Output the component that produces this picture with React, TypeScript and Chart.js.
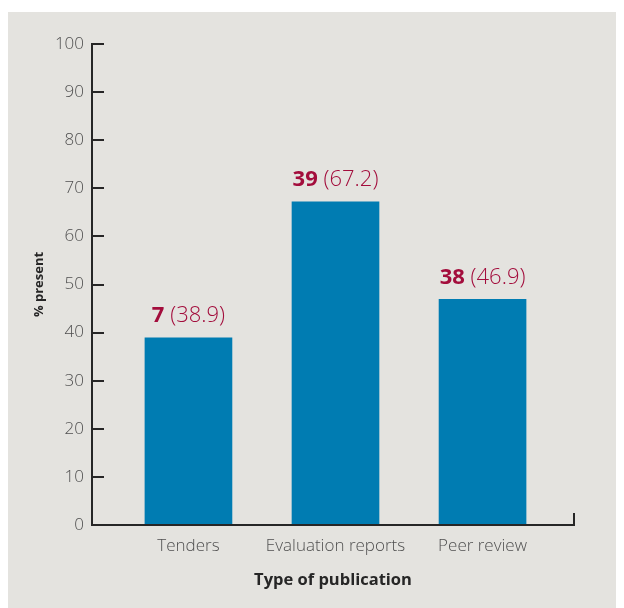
import { useEffect, useRef } from "react";
import { Chart, registerables } from "chart.js";

Chart.register(...registerables);

const categories = ["Tenders", "Evaluation reports", "Peer review"];
const percentages = [38.9, 67.2, 46.9];
const counts = [7, 39, 38];
const yTickValues = [0, 10, 20, 30, 40, 50, 60, 70, 80, 90, 100];

const FONT = "'Open Sans', 'Noto Sans', sans-serif";
const INK = "#262626";
const TICK_GREY = "#505050";
const BAR_BLUE = "#007cb2";
const LABEL_RED = "#a30d3c";
const BG = "#e4e3df";

export default function App() {
  const ref = useRef<HTMLCanvasElement>(null);

  useEffect(() => {
    if (!ref.current) return;

    const axesPlugin = {
      id: "customAxes",
      afterDraw(chart: any) {
        const { ctx, chartArea } = chart;
        const y = chart.scales.y;
        const y0 = y.getPixelForValue(0);
        const yTop = y.getPixelForValue(100);
        const left = chartArea.left;
        const right = chartArea.right;
        ctx.save();
        ctx.strokeStyle = INK;
        ctx.lineWidth = 2;
        ctx.beginPath();
        ctx.moveTo(left, yTop - 1);
        ctx.lineTo(left, y0 + 1);
        ctx.moveTo(left - 1, y0);
        ctx.lineTo(right + 1, y0);
        ctx.moveTo(right, y0 + 1);
        ctx.lineTo(right, y0 - 12);
        yTickValues.forEach((v) => {
          if (v === 0) return;
          const py = Math.round(y.getPixelForValue(v));
          ctx.moveTo(left, py);
          ctx.lineTo(left + 12, py);
        });
        ctx.stroke();
        ctx.restore();
      },
    };

    const labelPlugin = {
      id: "barLabels",
      afterDatasetsDraw(chart: any) {
        const { ctx } = chart;
        const meta = chart.getDatasetMeta(0);
        ctx.save();
        ctx.textBaseline = "middle";
        ctx.fillStyle = LABEL_RED;
        meta.data.forEach((bar: any, i: number) => {
          const bold = String(counts[i]);
          const light = " (" + percentages[i].toFixed(1) + ")";
          ctx.font = `700 22px ${FONT}`;
          const wb = ctx.measureText(bold).width;
          ctx.font = `300 22px ${FONT}`;
          const wl = ctx.measureText(light).width;
          const start = bar.x - (wb + wl) / 2;
          const ty = bar.y - 22;
          ctx.textAlign = "left";
          ctx.font = `700 22px ${FONT}`;
          ctx.fillText(bold, start, ty);
          ctx.font = `300 22px ${FONT}`;
          ctx.fillText(light, start + wb, ty);
        });
        ctx.restore();
      },
    };

    const chart = new Chart(ref.current, {
      type: "bar",
      data: {
        datasets: [
          {
            label: "% present",
            data: percentages.map((v, i) => ({ x: i, y: v })),
            backgroundColor: BAR_BLUE,
            borderWidth: 0,
            barThickness: 87,
          },
        ],
      },
      options: {
        responsive: false,
        animation: false,
        devicePixelRatio: 1,
        layout: { padding: { top: 32, right: 50, left: 0, bottom: 0 } },
        plugins: {
          legend: { display: false },
          tooltip: { enabled: false },
          title: { display: false },
        },
        scales: {
          x: {
            type: "linear",
            min: -0.656,
            max: 2.622,
            offset: false,
            grid: { display: false, drawTicks: false, offset: false },
            border: { display: false },
            afterFit: (scale: any) => {
              scale.height = 83;
            },
            afterBuildTicks: (scale: any) => {
              scale.ticks = categories.map((_, i) => ({ value: i }));
            },
            ticks: {
              padding: 11,
              color: TICK_GREY,
              font: { family: FONT, size: 17, weight: 300 },
              autoSkip: false,
              maxRotation: 0,
              callback: (v: any) => categories[v as number] ?? "",
            },
            title: {
              display: true,
              text: "Type of publication",
              color: INK,
              font: { family: FONT, size: 16.5, weight: "bold" },
              padding: { top: 0, bottom: 18 },
            },
          },
          y: {
            type: "linear",
            min: 0,
            max: 100,
            grid: { display: false, drawTicks: false },
            border: { display: false },
            afterFit: (scale: any) => {
              scale.width = 84;
            },
            afterBuildTicks: (scale: any) => {
              scale.ticks = yTickValues.map((v) => ({ value: v }));
            },
            ticks: {
              padding: 8,
              color: TICK_GREY,
              font: { family: FONT, size: 17, weight: 300 },
            },
            title: {
              display: true,
              text: "% present",
              color: INK,
              font: { family: FONT, size: 13, weight: "bold" },
              padding: { top: 23, bottom: 0 },
            },
          },
        },
      },
      plugins: [axesPlugin, labelPlugin],
    } as any);

    return () => chart.destroy();
  }, []);

  return (
    <div style={{ paddingTop: 4 }}>
      <div style={{ width: 616, height: 596, background: BG }}>
        <canvas ref={ref} width={616} height={596} style={{ display: "block" }} />
      </div>
    </div>
  );
}
